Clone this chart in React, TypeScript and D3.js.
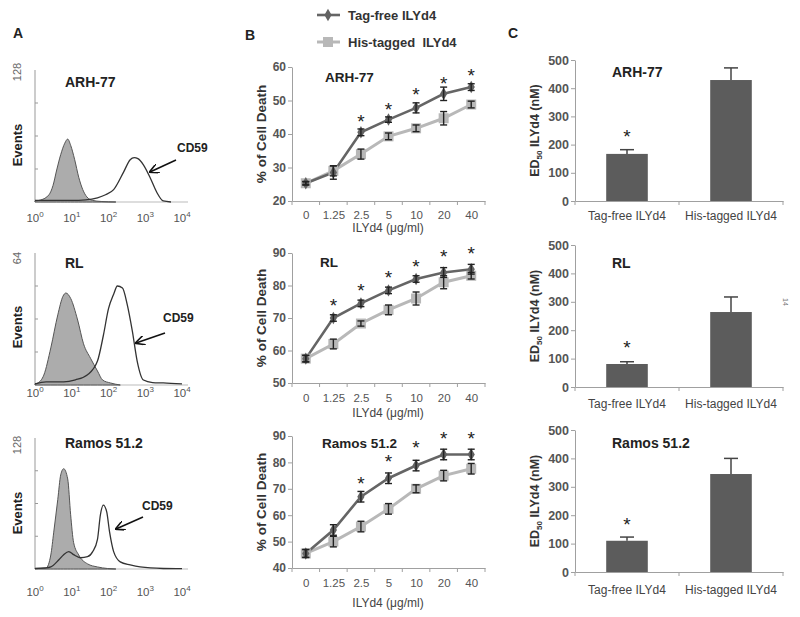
import React, { useEffect, useRef } from 'react';
import * as d3 from 'd3';

const FONT = '"Liberation Sans", Arial, sans-serif';

// ---- panel A: flow histograms, [log10 fluorescence, events] ----
const decades = [0, 1, 2, 3, 4];
const arhIsotype = [[0, 1], [0.16, 2], [0.38, 7], [0.49, 16], [0.59, 31], [0.7, 46], [0.81, 57], [0.89, 61], [0.97, 55], [1.08, 41], [1.19, 24], [1.3, 12], [1.41, 5], [1.57, 1.5], [1.8, 0.5], [2.2, 0]];
const arhCD59 = [[0, 1.5], [0.5, 1.5], [1.0, 1.5], [1.38, 2], [1.7, 4], [1.92, 7], [2.14, 12], [2.41, 29], [2.59, 41], [2.7, 43], [2.8, 42], [2.95, 36], [3.14, 23], [3.32, 9], [3.49, 1], [3.7, 0]];
const rlIsotype = [[0, 0.5], [0.08, 1], [0.24, 4.8], [0.43, 18], [0.62, 34], [0.76, 43], [0.84, 44.6], [0.97, 42], [1.16, 31.5], [1.32, 20], [1.51, 13], [1.7, 6.8], [1.84, 2.4], [2.05, 1], [2.32, 0]];
const rlCD59 = [[0, 0.5], [0.3, 1.5], [0.78, 1.5], [1.1, 2.5], [1.43, 5], [1.7, 11.6], [1.86, 24], [2.0, 37], [2.14, 44], [2.24, 48], [2.38, 47], [2.51, 39], [2.65, 26], [2.78, 11.6], [2.95, 2.4], [3.2, 1.2], [3.49, 1], [4.0, 0.5]];
const ramosIsotype = [[0, 0.5], [0.3, 1], [0.43, 13.7], [0.51, 36], [0.62, 68], [0.7, 92], [0.78, 98], [0.89, 88], [0.97, 53], [1.05, 26], [1.19, 13.7], [1.43, 5], [1.7, 2], [1.97, 0.5], [2.2, 0]];
const ramosCD59 = [[0, 0.5], [0.3, 1], [0.43, 2], [0.65, 9], [0.78, 14], [0.92, 17], [1.05, 14], [1.24, 11], [1.43, 12], [1.57, 17], [1.7, 29], [1.78, 53], [1.86, 62.5], [1.95, 56], [2.03, 36], [2.14, 17], [2.32, 7], [2.59, 4], [2.86, 2], [3.49, 0.5], [4.0, 0.3]];

// ---- panel B: % of cell death vs dose ----
const doses = ['0', '1.25', '2.5', '5', '10', '20', '40'];
const arhTagFree = [25.3, 28.5, 40.5, 44.3, 47.8, 52, 54];
const arhTagFreeErr = [0.5, 2, 1, 0.8, 1.5, 2, 1];
const arhHis = [25.3, 29, 34, 39.3, 41.7, 44.7, 48.8];
const arhHisErr = [0.5, 1.5, 1.5, 1, 1, 2, 1];
const arhStars = [null, null, 45, 48.7, 53, 56.4, 58.8];
const arhTicks = [20, 30, 40, 50, 60];

const rlTagFree = [57.5, 70, 74.5, 78.5, 82, 84, 85];
const rlTagFreeErr = [1, 1, 1, 1, 1, 1.5, 1.5];
const rlHis = [57.5, 62, 68.3, 72.5, 76, 81, 83];
const rlHisErr = [1, 1.5, 0.8, 1.5, 2, 2, 1];
const rlStars = [null, 75.2, 79.8, 83.8, 87.2, 90.3, 91.2];
const rlTicks = [50, 60, 70, 80, 90];

const ramosTagFree = [45.5, 54.4, 67, 74, 78.8, 83, 83];
const ramosTagFreeErr = [1.5, 2, 2, 2, 2, 2, 2];
const ramosHis = [45.5, 50, 55.7, 62.4, 70, 75, 77.6];
const ramosHisErr = [1.5, 2, 2, 2, 1.5, 2, 2];
const ramosStars = [null, null, 73.7, 82, 87.3, 90.8, 90.8];
const ramosTicks = [40, 50, 60, 70, 80, 90];

// ---- panel C: ED50 (nM) ----
const barGroups = ['Tag-free ILYd4', 'His-tagged ILYd4'];
const barTicks = [0, 100, 200, 300, 400, 500];
const arhED50 = [167, 429];
const arhED50Err = [15, 43];
const rlED50 = [81, 264];
const rlED50Err = [8, 53];
const ramosED50 = [110, 345];
const ramosED50Err = [13, 55];
const ed50Stars = [245, 155, 183];

function AxisG({ axis, transform, fontSize = 11, fontWeight = 'normal', color = '#555', line = '#a0a0a0' }) {
  const ref = useRef(null);
  useEffect(() => {
    const g = d3.select(ref.current);
    g.call(axis);
    g.attr('font-family', FONT).attr('font-size', fontSize);
    g.select('.domain').attr('stroke', line);
    g.selectAll('.tick line').attr('stroke', line);
    g.selectAll('.tick text').attr('fill', color).attr('font-weight', fontWeight);
  });
  return <g ref={ref} transform={transform} />;
}

function Histogram({ isotype, cd59, maxCount, top, base, tickY, topLabel, topLabelY, eventsY, title, titleY, cd59Pos, arrow }) {
  const x = d3.scaleLinear().domain([0, 4]).range([35, 182]);
  const y = d3.scaleLinear().domain([0, maxCount]).range([base, top]);
  const area = d3.area().x(d => x(d[0])).y0(base).y1(d => y(d[1])).curve(d3.curveMonotoneX);
  const line = d3.line().x(d => x(d[0])).y(d => y(d[1])).curve(d3.curveMonotoneX);
  return (
    <g>
      <line x1={35} x2={188} y1={base} y2={base} stroke="#bbb" />
      <line x1={35} x2={35} y1={top} y2={base} stroke="#999" />
      {[0.25, 0.5, 0.75].map(f => (
        <line key={f} x1={35} x2={38} y1={y(maxCount * f)} y2={y(maxCount * f)} stroke="#999" />
      ))}
      <path d={area(isotype)} fill="#acacac" stroke="#555" strokeWidth={1} />
      <path d={line(cd59)} fill="none" stroke="#333" strokeWidth={1.3} />
      {decades.map(d => (
        <text key={d} x={x(d)} y={tickY + 4} textAnchor="middle" fontSize={11.5} fill="#555" fontFamily={FONT}>
          10<tspan dy={-5} fontSize={8}>{d}</tspan>
        </text>
      ))}
      <text transform={`translate(21,${topLabelY}) rotate(-90)`} textAnchor="middle" fontSize={11} fill="#666" fontFamily={FONT}>{topLabel}</text>
      <text transform={`translate(22,${eventsY}) rotate(-90)`} textAnchor="middle" fontSize={13} fontWeight="bold" fill="#222" fontFamily={FONT}>Events</text>
      <text x={65} y={titleY} fontSize={14} fontWeight="bold" fill="#222" fontFamily={FONT}>{title}</text>
      <text x={cd59Pos[0]} y={cd59Pos[1]} fontSize={12} fontWeight="bold" fill="#222" fontFamily={FONT}>CD59</text>
      <line x1={arrow[0]} y1={arrow[1]} x2={arrow[2]} y2={arrow[3]} stroke="#111" strokeWidth={1.6} markerEnd="url(#arrowHead)" />
    </g>
  );
}

function LinePanel({ title, titleX, titleY, yDomain, yRange, yTicks, tagFree, tagFreeErr, his, hisErr, stars, tickPad, labelY }) {
  const x = d3.scalePoint().domain(doses).range([292, 485]).padding(0.5);
  const y = d3.scaleLinear().domain(yDomain).range(yRange);
  const base = yRange[0];
  const step = x.step();
  const line = d3.line().x((d, i) => x(doses[i])).y(d => y(d));
  const bounds = [0, ...doses.map((d, i) => i + 1)];
  const errBars = (vals, errs) =>
    vals.map((v, i) => {
      const cx = x(doses[i]);
      return (
        <g key={i} stroke="#222" strokeWidth={1.4}>
          <line x1={cx} x2={cx} y1={y(v - errs[i])} y2={y(v + errs[i])} />
          <line x1={cx - 3.5} x2={cx + 3.5} y1={y(v - errs[i])} y2={y(v - errs[i])} />
          <line x1={cx - 3.5} x2={cx + 3.5} y1={y(v + errs[i])} y2={y(v + errs[i])} />
        </g>
      );
    });
  return (
    <g>
      <AxisG axis={d3.axisLeft(y).tickValues(yTicks).tickSize(4).tickSizeOuter(0).tickPadding(2)} transform="translate(292,0)" fontSize={12} fontWeight="bold" />
      <AxisG axis={d3.axisBottom(x).tickSize(0).tickPadding(tickPad)} transform={`translate(0,${base})`} fontSize={11.5} />
      {bounds.map(b => {
        const bx = 292 + b * step;
        return <line key={b} x1={bx} x2={bx} y1={base} y2={base + 4} stroke="#a0a0a0" />;
      })}
      <path d={line(his)} fill="none" stroke="#b8b8b8" strokeWidth={3} />
      <path d={line(tagFree)} fill="none" stroke="#656565" strokeWidth={2.6} />
      {his.map((v, i) => (
        <rect key={i} x={x(doses[i]) - 5} y={y(v) - 5} width={10} height={10} fill="#b8b8b8" />
      ))}
      {tagFree.map((v, i) => (
        <path key={i} d={d3.symbol(d3.symbolDiamond, 45)()} transform={`translate(${x(doses[i])},${y(v)})`} fill="#626262" />
      ))}
      {errBars(his, hisErr)}
      {errBars(tagFree, tagFreeErr)}
      {stars.map((s, i) =>
        s == null ? null : (
          <text key={i} x={x(doses[i])} y={y(s) + 11} textAnchor="middle" fontSize={19} fill="#222" fontFamily={FONT}>*</text>
        )
      )}
      <text x={titleX} y={titleY} fontSize={13.5} fontWeight="bold" fill="#222" fontFamily={FONT}>{title}</text>
      <text transform={`translate(261,${(yRange[0] + yRange[1]) / 2}) rotate(-90)`} textAnchor="middle" dy="0.35em" fontSize={13.5} fontWeight="bold" fill="#333" fontFamily={FONT}>% of Cell Death</text>
      <text x={388} y={labelY} textAnchor="middle" dy="0.35em" fontSize={12} fill="#444" fontFamily={FONT}>ILYd4 (μg/ml)</text>
    </g>
  );
}

function BarPanel({ values, errs, star, top, base, title, titleY, tickY }) {
  const x = d3.scaleBand().domain(barGroups).range([575, 783]).paddingInner(0.6).paddingOuter(0.3);
  const y = d3.scaleLinear().domain([0, 500]).range([base, top]);
  const step = x.step();
  return (
    <g>
      <AxisG axis={d3.axisLeft(y).tickValues(barTicks).tickSize(4).tickSizeOuter(0).tickPadding(2)} transform="translate(575,0)" fontSize={12.5} fontWeight="bold" />
      <AxisG axis={d3.axisBottom(x).tickSize(0).tickPadding(tickY - base - 4)} transform={`translate(0,${base})`} fontSize={12} color="#444" />
      {[0, 1, 2].map(b => (
        <line key={b} x1={575 + b * step} x2={575 + b * step} y1={base} y2={base + 4} stroke="#a0a0a0" />
      ))}
      {values.map((v, i) => {
        const cx = x(barGroups[i]) + x.bandwidth() / 2;
        return (
          <g key={i}>
            <rect x={x(barGroups[i])} y={y(v)} width={x.bandwidth()} height={base - y(v)} fill="#5c5c5c" />
            <line x1={cx} x2={cx} y1={y(v)} y2={y(v + errs[i])} stroke="#444" strokeWidth={1.5} />
            <line x1={cx - 7} x2={cx + 7} y1={y(v + errs[i])} y2={y(v + errs[i])} stroke="#444" strokeWidth={1.5} />
          </g>
        );
      })}
      <text x={x(barGroups[0]) + x.bandwidth() / 2} y={y(star) + 11} textAnchor="middle" fontSize={19} fill="#222" fontFamily={FONT}>*</text>
      <text x={612} y={titleY} fontSize={14} fontWeight="bold" fill="#222" fontFamily={FONT}>{title}</text>
      <text transform={`translate(535,${(base + top) / 2}) rotate(-90)`} textAnchor="middle" dy="0.35em" fontSize={12.5} fontWeight="bold" fill="#333" fontFamily={FONT}>
        ED<tspan fontSize={8} dy={3}>50</tspan><tspan dy={-3}> ILYd4 (nM)</tspan>
      </text>
    </g>
  );
}

export default function App() {
  return (
    <svg width={800} height={617} style={{ position: 'absolute', left: 0, top: 0, background: '#fff' }}>
      <defs>
        <marker id="arrowHead" viewBox="0 0 10 10" refX={9} refY={5} markerWidth={6} markerHeight={6} orient="auto">
          <path d="M0,0 L10,5 L0,10" fill="none" stroke="#111" strokeWidth={1.6} />
        </marker>
      </defs>

      <text x={13} y={38} fontSize={14} fontWeight="bold" fill="#222" fontFamily={FONT}>A</text>
      <text x={245} y={40} fontSize={14} fontWeight="bold" fill="#222" fontFamily={FONT}>B</text>
      <text x={508} y={38} fontSize={14} fontWeight="bold" fill="#222" fontFamily={FONT}>C</text>

      {/* legend */}
      <line x1={317} x2={340} y1={15} y2={15} stroke="#656565" strokeWidth={2.6} />
      <path d={d3.symbol(d3.symbolDiamond, 45)()} transform="translate(328,15)" fill="#626262" />
      <text x={348} y={15} dy="0.35em" fontSize={13} fontWeight="bold" fill="#333" fontFamily={FONT}>Tag-free ILYd4</text>
      <line x1={317} x2={340} y1={42} y2={42} stroke="#b8b8b8" strokeWidth={3} />
      <rect x={323} y={37} width={10} height={10} fill="#b8b8b8" />
      <text x={348} y={42} dy="0.35em" fontSize={13} fontWeight="bold" fill="#333" fontFamily={FONT} xmlSpace="preserve">His-tagged  ILYd4</text>

      <Histogram isotype={arhIsotype} cd59={arhCD59} maxCount={128} top={70} base={202} tickY={218} topLabel="128" topLabelY={72} eventsY={145} title="ARH-77" titleY={87} cd59Pos={[177, 152]} arrow={[176, 160, 150, 172]} />
      <Histogram isotype={rlIsotype} cd59={rlCD59} maxCount={64} top={253} base={385} tickY={393} topLabel="64" topLabelY={258} eventsY={327} title="RL" titleY={268} cd59Pos={[163, 322]} arrow={[165, 333, 136, 343]} />
      <Histogram isotype={ramosIsotype} cd59={ramosCD59} maxCount={128} top={438} base={569} tickY={592} topLabel="128" topLabelY={445} eventsY={513} title="Ramos 51.2" titleY={448} cd59Pos={[142, 510]} arrow={[143, 517, 116, 529]} />

      <LinePanel title="ARH-77" titleX={325} titleY={82} yDomain={[20, 60]} yRange={[201, 67]} yTicks={arhTicks} tagFree={arhTagFree} tagFreeErr={arhTagFreeErr} his={arhHis} hisErr={arhHisErr} stars={arhStars} tickPad={10} labelY={228} />
      <LinePanel title="RL" titleX={320} titleY={267} yDomain={[50, 90]} yRange={[383, 253]} yTicks={rlTicks} tagFree={rlTagFree} tagFreeErr={rlTagFreeErr} his={rlHis} hisErr={rlHisErr} stars={rlStars} tickPad={11} labelY={413} />
      <LinePanel title="Ramos 51.2" titleX={322} titleY={448} yDomain={[40, 90]} yRange={[568, 436]} yTicks={ramosTicks} tagFree={ramosTagFree} tagFreeErr={ramosTagFreeErr} his={ramosHis} hisErr={ramosHisErr} stars={ramosStars} tickPad={11} labelY={603} />

      <BarPanel values={arhED50} errs={arhED50Err} star={ed50Stars[0]} top={60} base={201} title="ARH-77" titleY={77} tickY={215} />
      <BarPanel values={rlED50} errs={rlED50Err} star={ed50Stars[1]} top={245} base={387} title="RL" titleY={268} tickY={403} />
      <BarPanel values={ramosED50} errs={ramosED50Err} star={ed50Stars[2]} top={430} base={572} title="Ramos 51.2" titleY={448} tickY={589} />

      <text transform="translate(783,302) rotate(90)" textAnchor="middle" fontSize={7} fill="#777" fontFamily={FONT}>14</text>
    </svg>
  );
}
